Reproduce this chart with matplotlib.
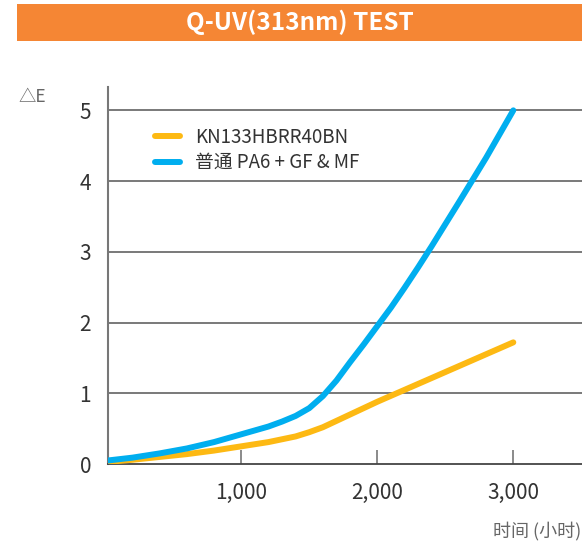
import matplotlib.pyplot as plt
from matplotlib.patches import Rectangle

plt.rcParams['font.family'] = ['Noto Sans CJK SC', 'DejaVu Sans']

# hours / delta E
hours_kn = [20, 200, 400, 600, 800, 1000, 1200, 1400, 1500, 1600, 1700, 1800, 1900, 2000,
            2500, 3000]
de_kn = [0.03, 0.06, 0.10, 0.14, 0.19, 0.25, 0.31, 0.39, 0.45, 0.52, 0.61, 0.70, 0.79, 0.88,
         1.30, 1.72]

hours_pa6 = [20, 200, 400, 600, 800, 1000, 1200, 1300, 1400, 1500, 1600, 1700, 1800, 1900,
             2000, 2100, 2200, 2300, 2400, 2600, 2800, 3000]
de_pa6 = [0.05, 0.09, 0.15, 0.22, 0.31, 0.42, 0.53, 0.60, 0.68, 0.79, 0.96, 1.18, 1.44, 1.69,
          1.95, 2.21, 2.49, 2.78, 3.08, 3.70, 4.33, 5.00]

series_names = ['KN133HBRR40BN', '普通 PA6 + GF & MF']
series_colors = ['#FDB913', '#00AEEF']
x_ticks = [1000, 2000, 3000]
x_tick_labels = ['1,000', '2,000', '3,000']
y_ticks = [0, 1, 2, 3, 4, 5]

fig = plt.figure(figsize=(5.82, 5.49), dpi=100)

# orange title banner
fig.patches.append(Rectangle((0.029, 0.925), 0.971, 0.068, transform=fig.transFigure,
                             facecolor='#F58634', edgecolor='none'))
fig.text(0.516, 0.959, 'Q-UV(313nm) TEST', color='white', fontsize=17.5,
         fontweight='bold', ha='center', va='center')

ax = fig.add_axes([0.185, 0.1548, 0.815, 0.6867])
ax.plot(hours_kn, de_kn, color=series_colors[0], lw=4.3, solid_capstyle='round',
        label=series_names[0], zorder=3)
ax.plot(hours_pa6, de_pa6, color=series_colors[1], lw=4.3, solid_capstyle='round',
        label=series_names[1], zorder=3)

ax.set_xlim(18, 3505)
ax.set_ylim(0, 5.33)
ax.set_xticks(x_ticks)
ax.set_xticklabels(x_tick_labels)
ax.set_yticks(y_ticks)

for y in y_ticks[1:]:
    ax.axhline(y, color='#555555', lw=1.1, zorder=1)

ax.spines['top'].set_visible(False)
ax.spines['right'].set_visible(False)
ax.spines['left'].set_color('#777777')
ax.spines['left'].set_linewidth(1.5)
ax.spines['bottom'].set_color('#444444')
ax.spines['bottom'].set_linewidth(1.3)

ax.tick_params(axis='x', direction='in', length=10, width=1.2, color='#777777',
               labelsize=15, labelcolor='#333333', pad=13)
ax.tick_params(axis='y', length=0, labelsize=15, labelcolor='#333333', pad=12)

ax.legend(loc='upper left', bbox_to_anchor=(0.065, 0.94), frameon=False, fontsize=13.5,
          handlelength=1.3, handletextpad=0.8, labelspacing=0.25, labelcolor='#333333')

fig.text(0.031, 0.823, '△E', color='#666666', fontsize=12.5, ha='left', va='center')
fig.text(0.998, 0.033, '时间 (小时)', color='#666666', fontsize=13, ha='right', va='center')

fig.savefig('out.png', dpi=100)
